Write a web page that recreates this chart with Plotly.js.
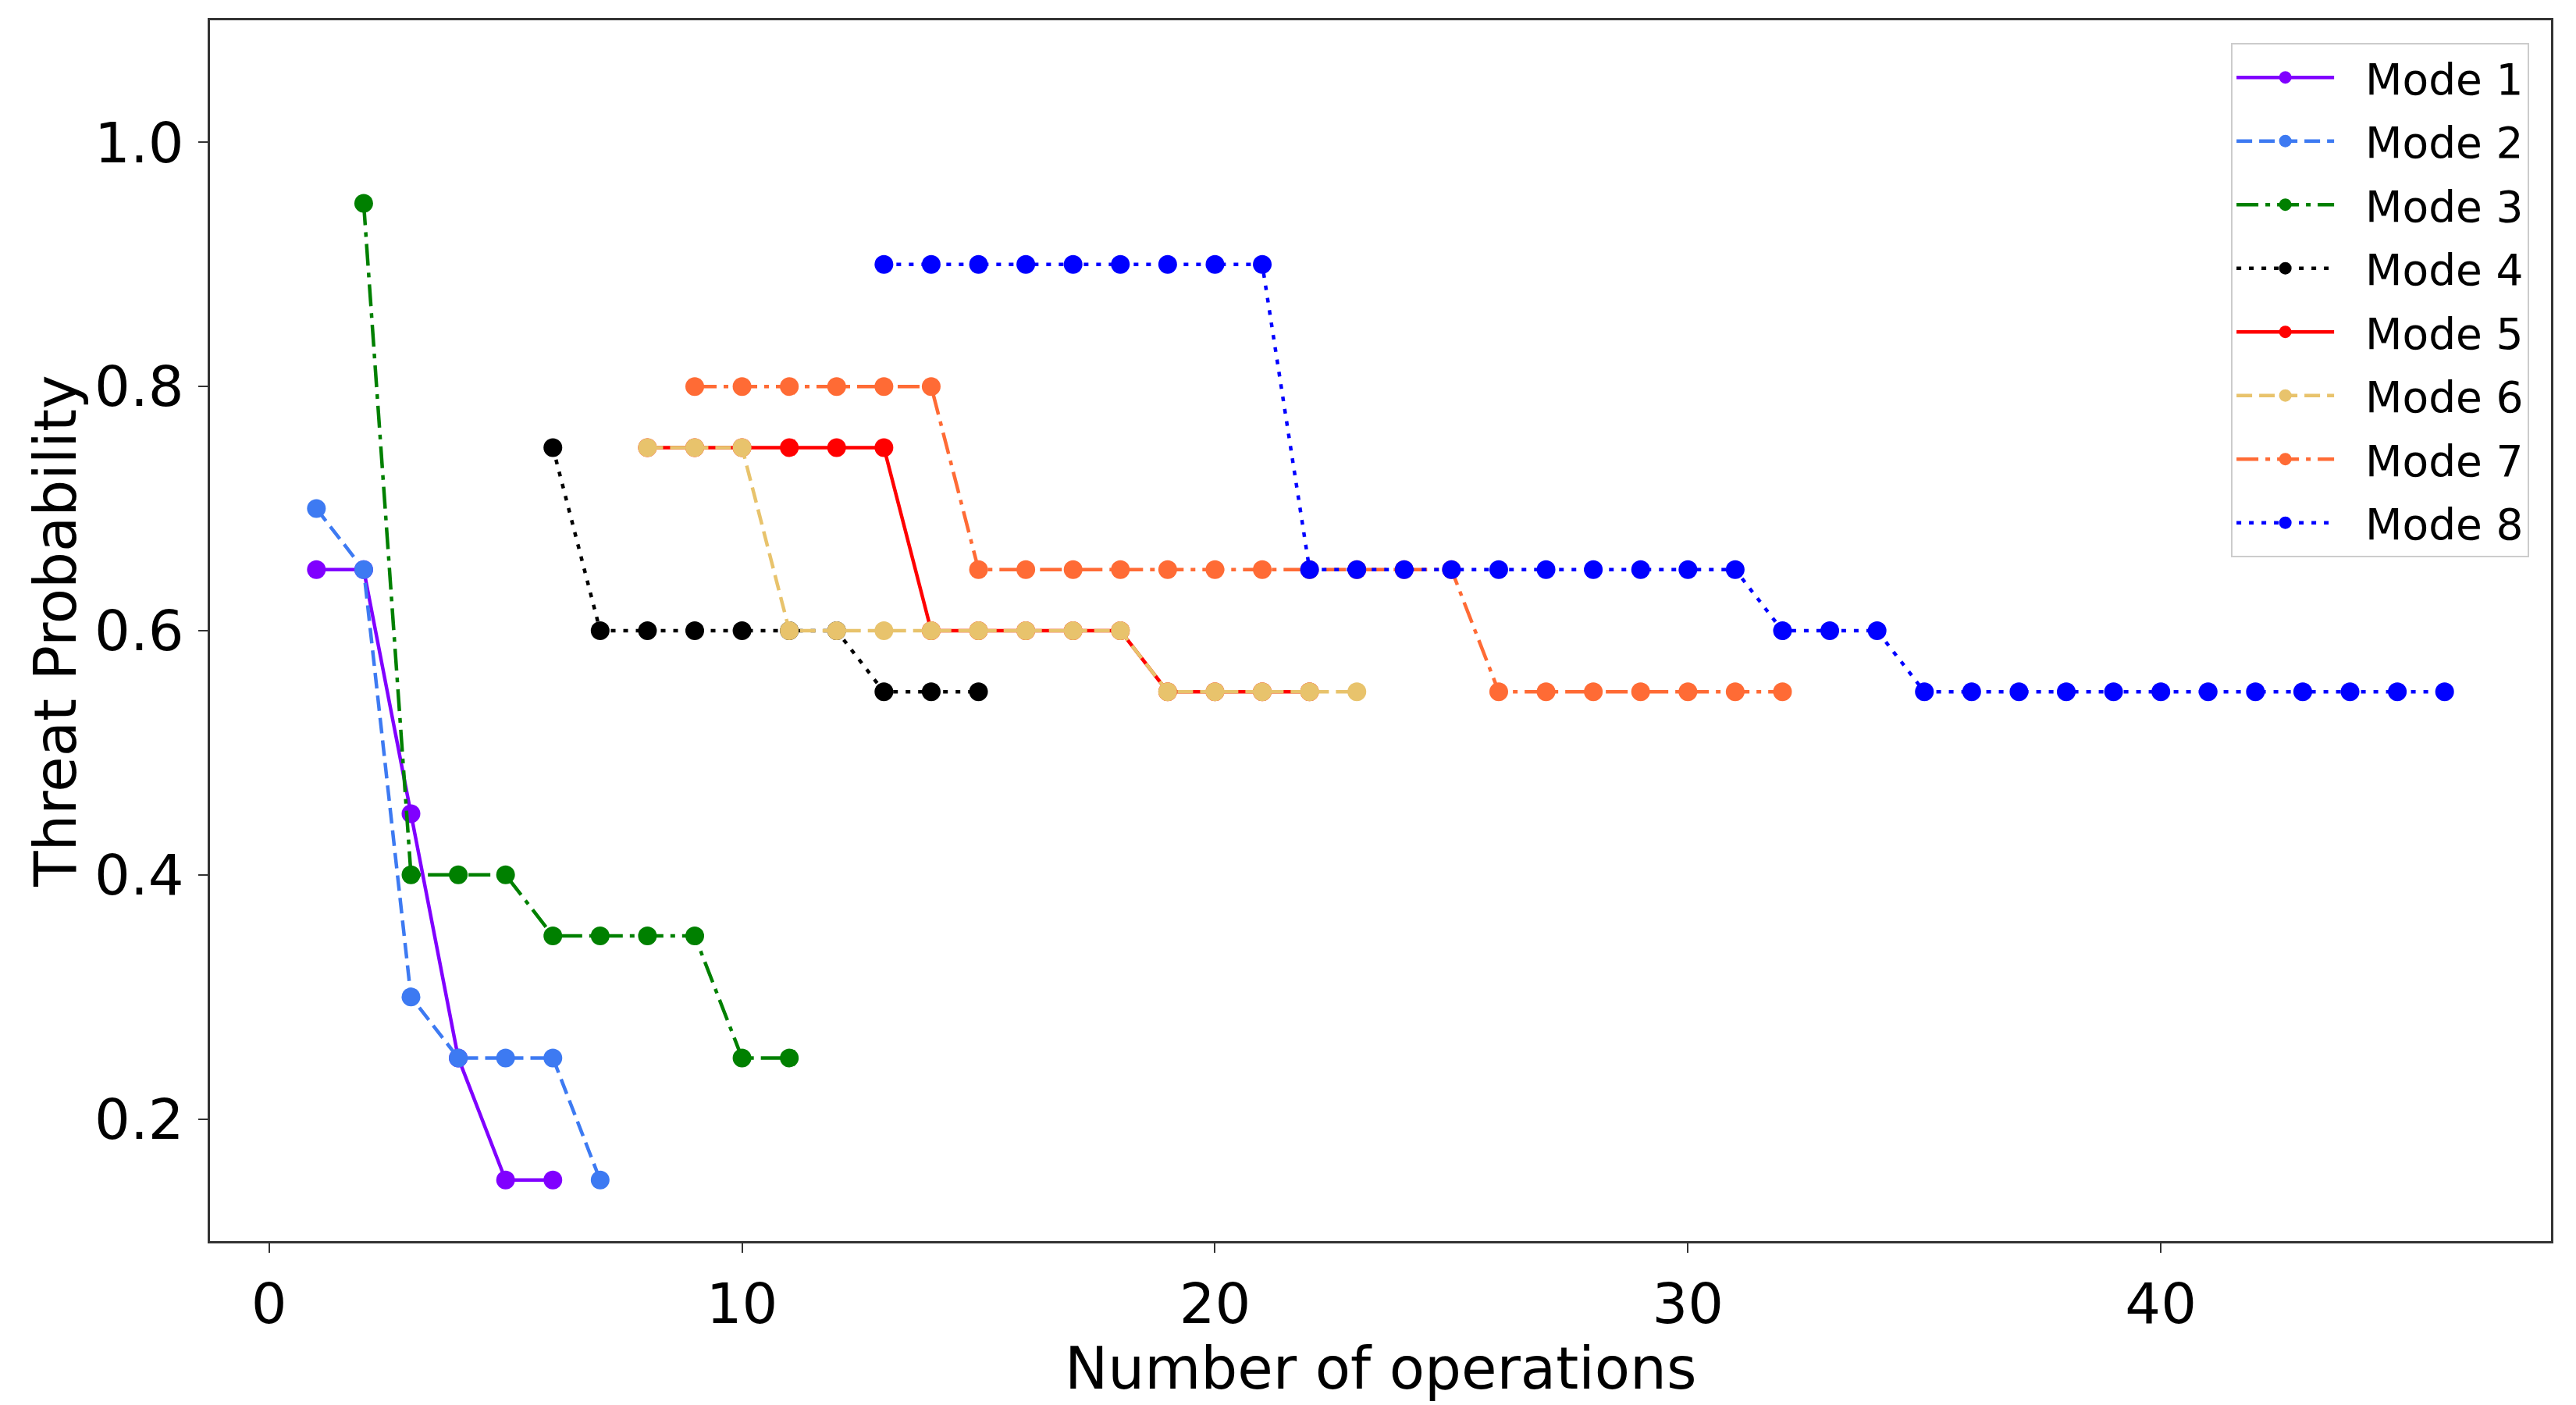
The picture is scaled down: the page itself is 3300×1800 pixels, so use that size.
<!DOCTYPE html>
<html>
<head>
<meta charset="utf-8">
<script src="https://cdn.plot.ly/plotly-3.0.1.min.js"></script>
<style>html,body{margin:0;padding:0;background:#fff;}#chart{width:3300px;height:1800px;}</style>
</head>
<body>
<div id="chart"></div>
<script>
// Data
const modeNames = ["Mode 1","Mode 2","Mode 3","Mode 4","Mode 5","Mode 6","Mode 7","Mode 8"];
const mode1X = [1,2,3,4,5,6];
const mode1Y = [0.65,0.65,0.45,0.25,0.15,0.15];
const mode2X = [1,2,3,4,5,6,7];
const mode2Y = [0.70,0.65,0.30,0.25,0.25,0.25,0.15];
const mode3X = [2,3,4,5,6,7,8,9,10,11];
const mode3Y = [0.95,0.40,0.40,0.40,0.35,0.35,0.35,0.35,0.25,0.25];
const mode4X = [6,7,8,9,10,11,12,13,14,15];
const mode4Y = [0.75,0.60,0.60,0.60,0.60,0.60,0.60,0.55,0.55,0.55];
const mode5X = [8,9,10,11,12,13,14,15,16,17,18,19,20,21,22];
const mode5Y = [0.75,0.75,0.75,0.75,0.75,0.75,0.60,0.60,0.60,0.60,0.60,0.55,0.55,0.55,0.55];
const mode6X = [8,9,10,11,12,13,14,15,16,17,18,19,20,21,22,23];
const mode6Y = [0.75,0.75,0.75,0.60,0.60,0.60,0.60,0.60,0.60,0.60,0.60,0.55,0.55,0.55,0.55,0.55];
const mode7X = [9,10,11,12,13,14,15,16,17,18,19,20,21,22,23,24,25,26,27,28,29,30,31,32];
const mode7Y = [0.80,0.80,0.80,0.80,0.80,0.80,0.65,0.65,0.65,0.65,0.65,0.65,0.65,0.65,0.65,0.65,0.65,0.55,0.55,0.55,0.55,0.55,0.55,0.55];
const mode8X = [13,14,15,16,17,18,19,20,21,22,23,24,25,26,27,28,29,30,31,32,33,34,35,36,37,38,39,40,41,42,43,44,45,46];
const mode8Y = [0.90,0.90,0.90,0.90,0.90,0.90,0.90,0.90,0.90,0.65,0.65,0.65,0.65,0.65,0.65,0.65,0.65,0.65,0.65,0.60,0.60,0.60,0.55,0.55,0.55,0.55,0.55,0.55,0.55,0.55,0.55,0.55,0.55,0.55];
const xTicks = [0,10,20,30,40];
const yTicks = [0.2,0.4,0.6,0.8,1.0];
const xTitle = "Number of operations";
const yTitle = "Threat Probability";

const xs = [mode1X,mode2X,mode3X,mode4X,mode5X,mode6X,mode7X,mode8X];
const ys = [mode1Y,mode2Y,mode3Y,mode4Y,mode5Y,mode6Y,mode7Y,mode8Y];
const colors = ["#8000ff","#3d7af2","#008000","#000000","#ff0000","#e8c36c","#ff6b35","#0000ff"];
const DASHED = "20px,9px", DASHDOT = "28px,9px,6px,9px", DOTTED = "6px,10px";
const dashes = ["solid",DASHED,DASHDOT,DOTTED,"solid",DASHED,DASHDOT,DOTTED];
const GAP = "\u00A0\u00A0";

const traces = modeNames.map((n,i)=>({
  type:"scatter", mode:"lines+markers", name:GAP + n, x:xs[i], y:ys[i],
  legendgroup:"g"+i,
  line:{color:colors[i], width:4.5, dash:dashes[i]},
  marker:{color:colors[i], size:24}
}));

const FONT = "DejaVu Sans, sans-serif";
const layout = {
  width:3300, height:1800,
  paper_bgcolor:"#ffffff", plot_bgcolor:"#ffffff",
  margin:{l:269, r:32, t:26, b:210},
  font:{family:FONT, color:"#000"},
  showlegend:true,
  legend:{
    x:0.9907, xanchor:"right", y:0.9815, yanchor:"top",
    bgcolor:"#ffffff", bordercolor:"#cccccc", borderwidth:2,
    font:{family:FONT, size:55, color:"#000"},
    traceorder:"grouped", tracegroupgap:7, itemwidth:125
  },
  xaxis:{
    range:[-1.25,48.25], tickvals:xTicks, ticktext:xTicks.map(String),
    showgrid:false, zeroline:false,
    showline:true, mirror:true, linecolor:"#333", linewidth:3,
    ticks:"outside", ticklen:12, tickwidth:2, tickcolor:"#333",
    tickfont:{family:FONT, size:72, color:"#000"},
    ticklabelstandoff:4
  },
  yaxis:{
    range:[0.1,1.1], tickvals:yTicks, ticktext:yTicks.map(v=>v.toFixed(1)),
    showgrid:false, zeroline:false,
    showline:true, mirror:true, linecolor:"#333", linewidth:3,
    ticks:"outside", ticklen:12, tickwidth:2, tickcolor:"#333",
    tickfont:{family:FONT, size:72, color:"#000"},
    ticklabelstandoff:4,
    title:{text:yTitle, font:{family:FONT, size:74, color:"#000"}, standoff:0}
  },
  annotations:[{
    text:xTitle, xref:"paper", yref:"paper", x:0.5, y:-0.104,
    xanchor:"center", yanchor:"middle", showarrow:false,
    font:{family:FONT, size:74, color:"#000"}
  }]
};

Plotly.newPlot("chart", traces, layout, {staticPlot:true, displayModeBar:false});
</script>
</body>
</html>
